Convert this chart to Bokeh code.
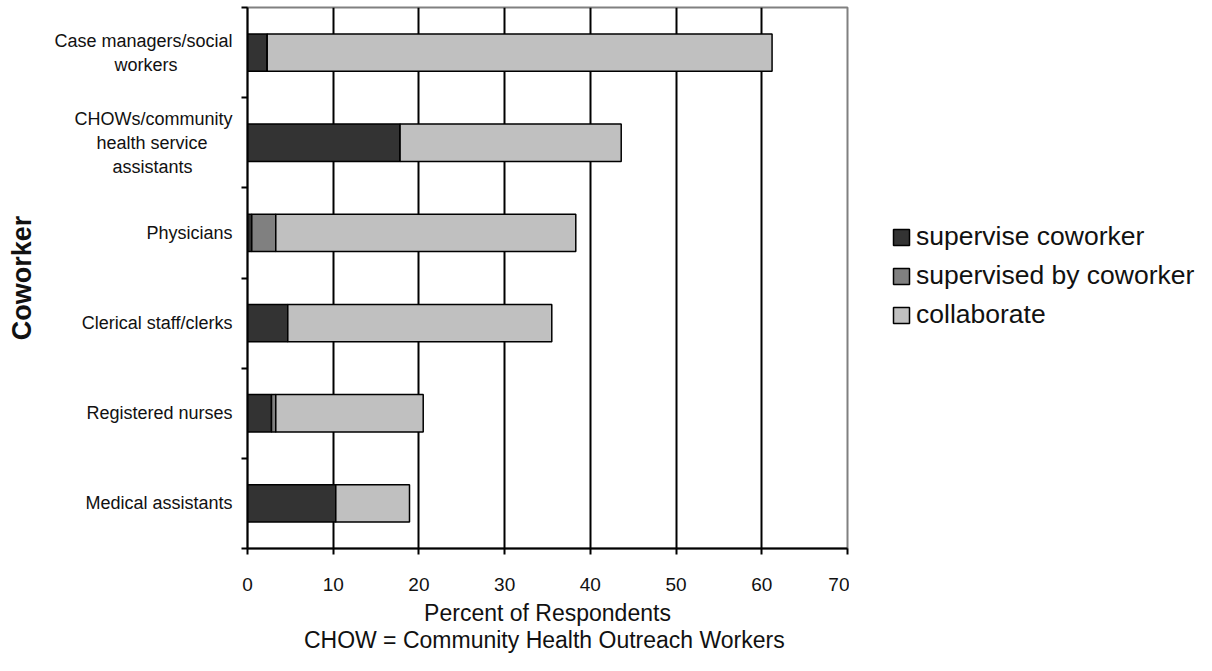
import numpy as np
from bokeh.plotting import figure
from bokeh.layouts import row
from bokeh.models import Range1d, FixedTicker, Legend, LegendItem, ColumnDataSource
from bokeh.embed import file_html
from bokeh.resources import INLINE

# ---- data (bottom to top) ----
categories = ["Medical assistants", "Registered nurses", "Clerical staff/clerks", "Physicians",
              "CHOWs/community\nhealth service\nassistants", "Case managers/social\nworkers"]
supervise = [10.3, 2.8, 4.7, 0.5, 17.8, 2.3]
supervised_by = [0.0, 0.5, 0.0, 2.8, 0.0, 0.0]
collaborate = [8.6, 17.2, 30.8, 35.0, 25.8, 58.9]
series_names = ["supervise coworker", "supervised by coworker", "collaborate"]
series_colors = ["#333333", "#808080", "#C0C0C0"]
x_ticks = [0, 10, 20, 30, 40, 50, 60, 70]
x_title = "Percent of Respondents"
note = "CHOW =  Community Health Outreach Workers"
y_title = "Coworker"

FONT = "Liberation Sans"

# Arial / Liberation Sans advance widths (per 1000 em) used to centre multi-line tick labels
_W = dict(a=556, b=556, c=500, d=556, e=556, f=278, g=556, h=556, i=222, j=222, k=500, l=222,
          m=833, n=556, o=556, p=556, q=556, r=333, s=500, t=278, u=556, v=500, w=722, x=500,
          y=500, z=500, C=722, H=722, O=778, W=944, R=722, M=833, P=667)
_W[" "] = 278
_W["/"] = 278


def centre_lines(label):
    lines = label.split("\n")
    widths = [sum(_W.get(ch, 556) for ch in ln) for ln in lines]
    wmax = max(widths)
    return "\n".join(ln + "\u00a0" * int(round((wmax - w) / 2 / 278.0))
                     for ln, w in zip(lines, widths))


ypos = np.arange(len(categories)) + 0.5
source = ColumnDataSource(dict(y=ypos, s1=supervise, s2=supervised_by, s3=collaborate))
stack_cols = ["s1", "s2", "s3"]

p = figure(width=849, height=655, x_range=Range1d(0, 70), y_range=Range1d(0, len(categories)),
           output_backend="svg", toolbar_location=None,
           min_border_left=247, min_border_right=2, min_border_top=7, min_border_bottom=106)

renderers = p.hbar_stack(stack_cols, y="y", height=0.414, fill_color=series_colors,
                         line_color="black", line_width=1.5, source=source)

# y axis: labels at centres, tick marks at boundaries (minor ticks)
p.yaxis.ticker = FixedTicker(ticks=list(ypos), minor_ticks=list(range(len(categories) + 1)))
p.yaxis.major_label_overrides = {float(v): centre_lines(c) for v, c in zip(ypos, categories)}
p.yaxis.major_tick_out = 0
p.yaxis.major_tick_in = 0
p.yaxis.minor_tick_out = 6
p.yaxis.minor_tick_in = 0
p.yaxis.minor_tick_line_color = "black"
p.yaxis.minor_tick_line_width = 2
p.yaxis.axis_line_color = "black"
p.yaxis.axis_line_width = 2
p.yaxis.major_label_standoff = 9
p.yaxis.major_label_text_font = FONT
p.yaxis.major_label_text_font_size = "18px"
p.yaxis.major_label_text_color = "#111111"
p.yaxis.major_label_text_line_height = 1.2
p.yaxis.axis_label = y_title
p.yaxis.axis_label_standoff = 14
p.yaxis.axis_label_text_font = FONT
p.yaxis.axis_label_text_font_size = "27px"
p.yaxis.axis_label_text_font_style = "bold"
p.yaxis.axis_label_text_color = "#111111"

# x axis
p.xaxis.ticker = FixedTicker(ticks=x_ticks)
p.xaxis.minor_tick_line_color = None
p.xaxis.major_tick_out = 6
p.xaxis.major_tick_in = 0
p.xaxis.major_tick_line_color = "black"
p.xaxis.major_tick_line_width = 2
p.xaxis.axis_line_color = "black"
p.xaxis.axis_line_width = 2
p.xaxis.major_label_standoff = 23
p.xaxis.major_label_text_font = FONT
p.xaxis.major_label_text_font_size = "19px"
p.xaxis.major_label_text_color = "#111111"
p.xaxis.axis_label = x_title + "\n" + note
p.xaxis.axis_label_standoff = 6
p.xaxis.axis_label_text_font = FONT
p.xaxis.axis_label_text_font_size = "23px"
p.xaxis.axis_label_text_font_style = "normal"
p.xaxis.axis_label_text_color = "#111111"
p.xaxis.axis_label_text_line_height = 1.04

# grid
p.ygrid.visible = False
p.xgrid.ticker = FixedTicker(ticks=x_ticks[1:-1])
p.xgrid.grid_line_color = "black"
p.xgrid.grid_line_width = 2

p.outline_line_color = "#808080"
p.outline_line_width = 2
p.background_fill_color = "white"
p.border_fill_color = "white"

# ---- legend panel (separate, axis-less figure to the right) ----
# the same series feed the legend glyphs; the renderers are muted with fully transparent
# muted styles, so they draw nothing here while the legend keeps their normal look
q = figure(width=347, height=655, x_range=Range1d(0, 70), y_range=Range1d(0, len(categories)),
           output_backend="svg", toolbar_location=None, x_axis_type=None, y_axis_type=None,
           min_border_left=0, min_border_right=0, min_border_top=0, min_border_bottom=0)
q.outline_line_color = None
q.grid.visible = False
q.background_fill_color = "white"
q.border_fill_color = "white"
legend_glyphs = []
for col, c in zip(stack_cols, series_colors):
    r = q.hbar(y="y", right=col, height=0.414, fill_color=c, line_color="black", line_width=1.5,
               muted_fill_alpha=0, muted_line_alpha=0, source=source)
    r.muted = True
    legend_glyphs.append(r)

legend = Legend(items=[LegendItem(label=n, renderers=[r]) for n, r in zip(series_names, legend_glyphs)],
                location=(42, 218), orientation="vertical", click_policy="none",
                border_line_color=None, background_fill_alpha=0, padding=0, margin=0,
                spacing=8, glyph_width=20, glyph_height=20, label_standoff=5,
                label_text_font=FONT, label_text_font_size="26.5px", label_text_color="#111111")
q.add_layout(legend)

layout = row(p, q, spacing=0)
open("out.html", "w").write(file_html(layout, INLINE))
